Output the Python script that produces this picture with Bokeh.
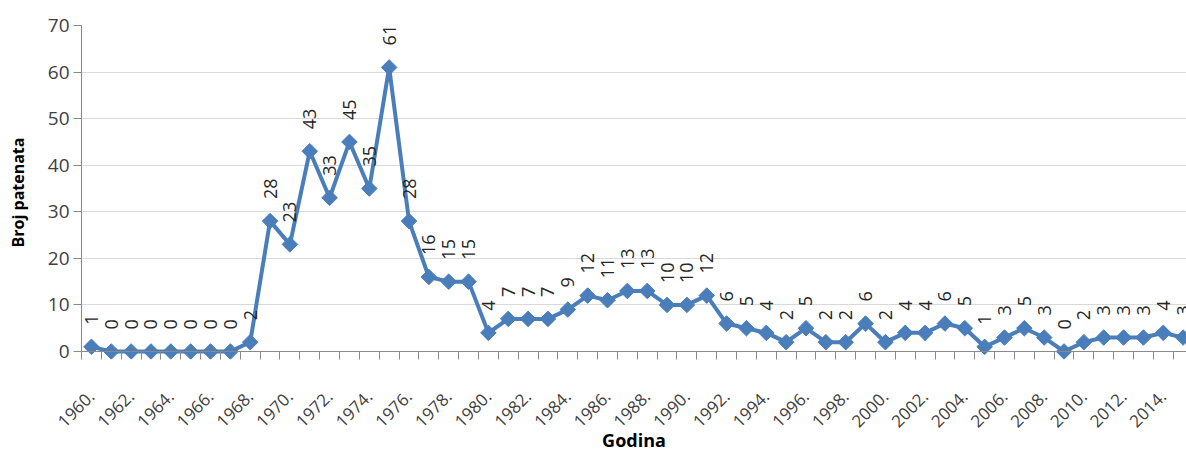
import numpy as np
from bokeh.plotting import figure
from bokeh.models import ColumnDataSource, Range1d, FixedTicker, Span
from bokeh.core.properties import value
from bokeh.embed import file_html
from bokeh.resources import INLINE

years = list(range(1960, 2016))
patents = [1, 0, 0, 0, 0, 0, 0, 0, 2, 28, 23, 43, 33, 45, 35, 61, 28, 16, 15, 15,
           4, 7, 7, 7, 9, 12, 11, 13, 13, 10, 10, 12, 6, 5, 4, 2, 5, 2, 2, 6,
           2, 4, 4, 6, 5, 1, 3, 5, 3, 0, 2, 3, 3, 3, 4, 3]
label_years = [y for y in years if (y - 1960) % 2 == 0]
tick_labels = [f"{y}." for y in label_years]
y_ticks = [0, 10, 20, 30, 40, 50, 60, 70]

FONT = "Open Sans"
BLUE = "#4A7EBB"

src = ColumnDataSource(dict(x=years, y=patents, lab=[str(v) for v in patents]))

p = figure(frame_width=1105, frame_height=334, output_backend="svg", toolbar_location=None,
           x_range=Range1d(1959.5, 2015.17), y_range=Range1d(-1.72, 70),
           min_border_left=81, min_border_right=0, min_border_top=25,
           min_border_bottom=92)
p.outline_line_color = None
p.background_fill_color = "white"
p.border_fill_color = "white"

# grid
p.xgrid.grid_line_color = None
p.ygrid.ticker = FixedTicker(ticks=y_ticks[1:])
p.ygrid.grid_line_color = "#D9D9D9"
p.ygrid.grid_line_width = 1

# y axis
p.yaxis.ticker = FixedTicker(ticks=y_ticks)
p.yaxis.bounds = (0, 70)
p.yaxis.axis_line_color = "#898989"
p.yaxis.major_tick_line_color = "#898989"
p.yaxis.major_tick_out = 8
p.yaxis.major_tick_in = 0
p.yaxis.minor_tick_line_color = None
p.yaxis.major_label_standoff = 4
p.yaxis.major_label_text_font = FONT
p.yaxis.major_label_text_font_size = "19px"
p.yaxis.major_label_text_color = "#404040"
p.yaxis.axis_label = "Broj patenata"
p.yaxis.axis_label_text_font = FONT
p.yaxis.axis_label_text_font_style = "bold"
p.yaxis.axis_label_text_font_size = "16px"
p.yaxis.axis_label_text_color = "#000000"
p.yaxis.axis_label_standoff = 16

# x axis
p.xaxis.ticker = FixedTicker(ticks=label_years,
                             minor_ticks=[y - 0.5 for y in years] + [years[-1] + 0.5])
p.xaxis.major_label_overrides = {y: t for y, t in zip(label_years, tick_labels)}
p.xaxis.major_label_orientation = np.pi / 4
p.xaxis.axis_line_color = None
p.xaxis.major_tick_line_color = None
p.xaxis.minor_tick_line_color = "#898989"
p.xaxis.minor_tick_in = 8
p.xaxis.minor_tick_out = 0
p.xaxis.major_label_standoff = 28
p.xaxis.major_label_text_font = FONT
p.xaxis.major_label_text_font_size = "17px"
p.xaxis.major_label_text_color = "#404040"
p.xaxis.axis_label = "Godina"
p.xaxis.axis_label_text_font = FONT
p.xaxis.axis_label_text_font_style = "bold"
p.xaxis.axis_label_text_font_size = "18px"
p.xaxis.axis_label_text_color = "#000000"
p.xaxis.axis_label_standoff = -8

p.add_layout(Span(location=0, dimension="width", line_color="#898989", line_width=1))

p.line("x", "y", source=src, line_color=BLUE, line_width=4)
p.scatter("x", "y", source=src, marker="square", angle=np.pi / 4, size=11,
          fill_color=BLUE, line_color=BLUE)
p.text("x", "y", text="lab", source=src, angle=np.pi / 2, text_align="left",
       text_baseline="middle", y_offset=-22, text_font=value(FONT),
       text_font_size="18px", text_color="#262626")

open("out.html", "w").write(file_html(p, INLINE))
